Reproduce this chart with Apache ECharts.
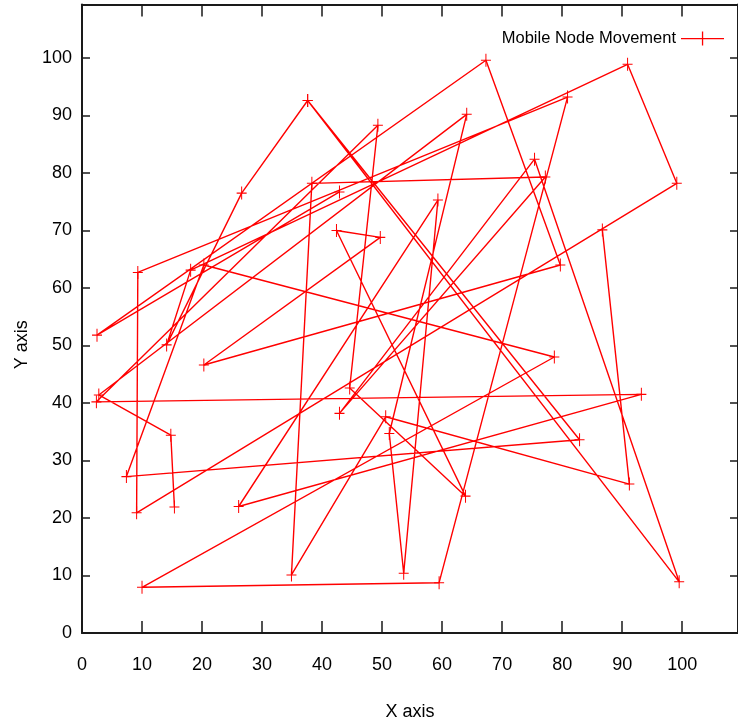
<!DOCTYPE html>
<html>
<head>
<meta charset="utf-8">
<script src="https://cdn.jsdelivr.net/npm/echarts@6/dist/echarts.min.js"></script>
<style>
html,body{margin:0;padding:0;background:#fff;}
#chart{width:738px;height:728px;}
</style>
</head>
<body>
<div id="chart"></div>
<script>
// Node positions in visiting order ('-' = gap between traces, like a blank line in a gnuplot data file)
const nodeX = [15.4, 14.8, 2.8, 64.1, 51.2, 53.6, 59.3, 26.1, 93.2, 2.4, 49.3, 44.6, 63.9, 42.4, 49.7, 20.3, 79.7, 67.3, 2.5, 42.9,
  '-',
  86.7, 91.2, 50.6, 34.9, 38.3, 77.2, 42.9, 75.4, 99.5, 37.6, 26.6, 14.1, 18.1, 90.9, 99.1, 9.1, 9.3, 80.9, 59.5, 10.0, 78.7, 20.3, 7.4, 82.9, 37.6];
const nodeY = [21.9, 34.4, 41.4, 90.2, 34.7, 10.4, 75.3, 22.0, 41.5, 40.2, 88.3, 42.6, 23.8, 70.0, 68.8, 46.6, 64.0, 99.6, 51.8, 76.7,
  '-',
  70.1, 25.9, 37.6, 10.1, 78.2, 79.3, 38.2, 82.4, 8.9, 92.6, 76.5, 50.1, 63.1, 98.9, 78.2, 20.9, 62.7, 93.2, 8.75, 7.95, 48.0, 64.0, 27.2, 33.6, 92.6];
const seriesName = 'Mobile Node Movement';
const xTitle = 'X axis';
const yTitle = 'Y axis';

const FONT = "'Liberation Sans','DejaVu Sans',sans-serif";
const points = nodeX.map((x, i) => [x, nodeY[i]]);
const plus = 'path://M0,5.5h10v1h-10z M4.5,0h1v12h-1z';
const axisLineStyle = {color: '#1a1a1a', width: 2};
const tickStyle = {color: '#1a1a1a', width: 1.5};

const chart = echarts.init(document.getElementById('chart'), null, {renderer: 'canvas'});
chart.setOption({
  animation: false,
  backgroundColor: '#ffffff',
  grid: {left: 82, top: 4.5, width: 661, height: 628.5, containLabel: false},
  legend: {
    data: [seriesName],
    top: 25, right: 9,
    align: 'right',
    itemWidth: 43, itemHeight: 14,
    icon: 'path://M0,6.4h43v1.3h-43z M20.9,0h1.3v14h-1.3z',
    textStyle: {fontFamily: FONT, fontSize: 16.5, color: '#000'}
  },
  xAxis: [
    {
      type: 'value', min: 0, max: 109.3, interval: 10, position: 'bottom',
      name: xTitle, nameLocation: 'middle', nameGap: 70,
      nameTextStyle: {fontFamily: FONT, fontSize: 18, color: '#000'},
      axisLine: {show: true, onZero: false, lineStyle: axisLineStyle},
      axisTick: {show: true, inside: true, length: 12, lineStyle: tickStyle},
      axisLabel: {showMaxLabel: false, margin: 23, fontFamily: FONT, fontSize: 18, color: '#000'},
      splitLine: {show: false}
    },
    {
      type: 'value', min: 0, max: 109.3, interval: 10, position: 'top',
      axisLine: {show: true, onZero: false, lineStyle: axisLineStyle},
      axisTick: {show: true, inside: true, length: 12, lineStyle: tickStyle},
      axisLabel: {show: false},
      splitLine: {show: false}
    }
  ],
  yAxis: [
    {
      type: 'value', min: 0, max: 109.3, interval: 10, position: 'left',
      name: yTitle, nameLocation: 'middle', nameGap: 50,
      nameTextStyle: {fontFamily: FONT, fontSize: 18, color: '#000', padding: [0, 52, 0, 0]},
      axisLine: {show: true, onZero: false, lineStyle: axisLineStyle},
      axisTick: {show: true, inside: true, length: 8, lineStyle: tickStyle},
      axisLabel: {showMaxLabel: false, margin: 10, fontFamily: FONT, fontSize: 18, color: '#000'},
      splitLine: {show: false}
    },
    {
      type: 'value', min: 0, max: 109.3, interval: 10, position: 'right',
      axisLine: {show: true, onZero: false, lineStyle: axisLineStyle},
      axisTick: {show: true, inside: true, length: 8, lineStyle: tickStyle},
      axisLabel: {show: false},
      splitLine: {show: false}
    }
  ],
  series: [{
    name: seriesName,
    type: 'line',
    xAxisIndex: 0, yAxisIndex: 0,
    data: points,
    connectNulls: false,
    symbol: plus,
    symbolSize: [10, 13],
    showAllSymbol: true,
    lineStyle: {color: '#ff0000', width: 1.4},
    itemStyle: {color: '#ff0000'},
    clip: false
  }]
});
</script>
</body>
</html>
